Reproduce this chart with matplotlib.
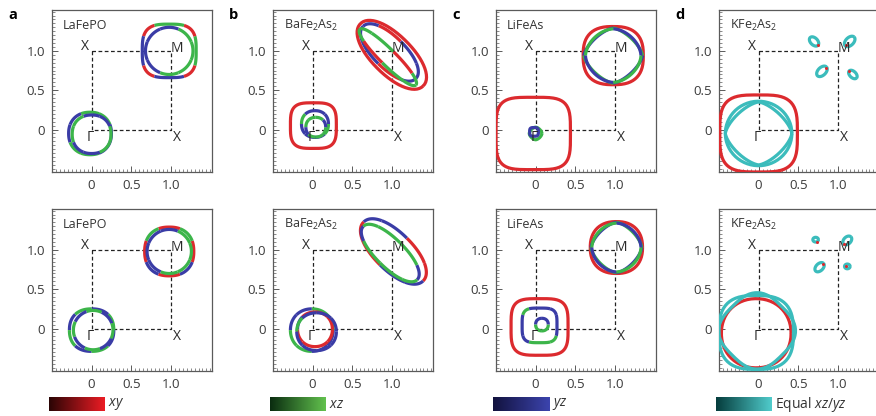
import numpy as np
import matplotlib
matplotlib.use("Agg")
import matplotlib.pyplot as plt
from matplotlib.ticker import FixedLocator, MultipleLocator
from matplotlib.colors import LinearSegmentedColormap

plt.rcParams['font.family'] = ['Open Sans', 'DejaVu Sans']
plt.rcParams['mathtext.fontset'] = 'custom'
plt.rcParams['mathtext.rm'] = 'Open Sans'
plt.rcParams['mathtext.it'] = 'Open Sans:italic'

# ---------------- data ----------------
PANEL_LETTERS = ['a', 'b', 'c', 'd']
MATERIALS = ['LaFePO', 'BaFe$_2$As$_2$', 'LiFeAs', 'KFe$_2$As$_2$']
TICKS = [0, 0.5, 1.0]
TICK_LABELS = ['0', '0.5', '1.0']
BZ_X = [0, 0, 1, 1, 0]
BZ_Y = [1, 0, 0, 1, 1]
POINT_NAMES = ['X', 'M', 'X', 'Γ']
POINT_X = [-0.09, 1.08, 1.08, -0.02]
POINT_Y = [1.05, 1.03, -0.1, -0.1]

# Fermi pockets: panel index (0-3 top row, 4-7 bottom row), centre, semi-axes,
# rotation (deg), superellipse exponent, orbital colour sequence, start angle
POCKET_PANEL = [0, 0, 0, 0,
                1, 1, 1, 1, 1, 1,
                2, 2, 2, 2, 2, 2,
                3, 3, 3, 3, 3, 3, 3,
                4, 4, 4, 4,
                5, 5, 5, 5, 5,
                6, 6, 6, 6, 6, 6,
                7, 7, 7, 7, 7, 7, 7]
POCKET_CX = [-0.02, 0.00, 0.98, 0.98,
             0.01, 0.03, 0.04, 1.00, 0.97, 0.95,
             -0.03, 0.00, -0.02, 0.98, 0.98, 0.98,
             0.00, 0.00, 0.00, 0.70, 1.15, 0.80, 1.19,
             0.00, 0.02, 0.98, 0.98,
             -0.01, 0.03, 0.05, 1.02, 0.98,
             0.05, 0.05, 0.08, 1.02, 1.02, 1.02,
             -0.03, -0.03, -0.02, 0.72, 1.12, 0.77, 1.12]
POCKET_CY = [-0.05, -0.06, 1.00, 1.00,
             0.05, 0.07, 0.03, 0.95, 0.98, 0.92,
             -0.05, -0.05, -0.03, 0.94, 0.94, 0.94,
             -0.05, -0.05, -0.05, 1.12, 1.12, 0.74, 0.70,
             -0.02, -0.02, 0.98, 0.98,
             -0.02, -0.01, -0.04, 0.98, 0.96,
             0.02, 0.04, 0.05, 1.03, 1.03, 1.03,
             -0.06, -0.05, -0.03, 1.13, 1.12, 0.78, 0.79]
POCKET_RX = [0.27, 0.245, 0.34, 0.30,
             0.29, 0.17, 0.125, 0.56, 0.47, 0.50,
             0.47, 0.08, 0.055, 0.38, 0.37, 0.35,
             0.49, 0.42, 0.42, 0.07, 0.08, 0.08, 0.065,
             0.28, 0.25, 0.31, 0.28,
             0.27, 0.22, 0.25, 0.53, 0.48,
             0.36, 0.22, 0.08, 0.33, 0.32, 0.31,
             0.44, 0.47, 0.44, 0.035, 0.065, 0.07, 0.035]
POCKET_RY = [0.27, 0.245, 0.34, 0.30,
             0.29, 0.17, 0.125, 0.25, 0.20, 0.10,
             0.46, 0.08, 0.055, 0.37, 0.35, 0.34,
             0.49, 0.41, 0.40, 0.045, 0.05, 0.05, 0.04,
             0.27, 0.25, 0.31, 0.28,
             0.27, 0.22, 0.24, 0.24, 0.18,
             0.36, 0.22, 0.08, 0.33, 0.32, 0.31,
             0.44, 0.47, 0.44, 0.03, 0.045, 0.045, 0.03]
POCKET_ROT = [0, 0, 0, 0,
              0, 0, 0, -45, -45, -45,
              0, 0, 0, 0, 0, 0,
              0, 0, 0, -45, 45, 45, -45,
              0, 0, 0, 0,
              0, 0, 0, -45, -45,
              0, 0, 0, 0, 0, 0,
              0, 0, 45, 0, 45, 45, 0]
POCKET_N = [2.2, 2.2, 3.2, 2.0,
            3.5, 2.2, 2.2, 2.1, 2.1, 2.1,
            4.0, 1.6, 3.5, 2.6, 1.45, 1.75,
            3.5, 2.0, 1.45, 2, 2, 2, 2,
            2.3, 2.0, 2.3, 2.0,
            2.1, 2.1, 2.1, 2.1, 2.1,
            3.8, 3.8, 2.2, 2.3, 1.5, 1.8,
            2.1, 2.8, 2.8, 2, 2, 2, 2]
POCKET_COLORS = ["GGBBGGBB", "BBGGBBGG", "GRGRBRBR", "GGBBBBGG",
                 "R", "BBBGBBBG", "GGGBGGGB", "R", "BBRBBBRB", "GRGGGRGG",
                 "R", "G", "B", "R", "GBGB", "BGBG",
                 "R", "C", "C", "C", "C", "C", "C",
                 "GBGBGBGB", "BGBGBGBG", "RGRGRBRB", "GGBBBBGG",
                 "GGBBGGBB", "RRRBRRRR", "BBBGBBBB", "RRBBRRBB", "BGGGBGGG",
                 "R", "BBBGBBGG", "BBGG", "R", "GBGB", "BGBG",
                 "R", "C", "C", "C", "C", "C", "C"]
POCKET_PHASE = [22.5, 22.5, -22.5, -22.5,
                0, 0, 45, 0, 0, 0,
                0, 0, 0, 0, 0, 0,
                0, 0, 0, 0, 0, 0, 0,
                0, 20, -22.5, -22.5,
                0, 0, 0, 0, 0,
                0, -22.5, 0, 0, 0, 0,
                0, 0, 0, 0, 0, 0, 0]
DOT_PANEL = [3, 3, 3, 3, 7, 7, 7, 7]
DOT_X = [0.75, 1.10, 0.85, 1.14, 0.74, 1.08, 0.81, 1.10]
DOT_Y = [1.07, 1.08, 0.78, 0.74, 1.10, 1.08, 0.82, 0.80]

LEGEND_LABELS = ['$\\it{xy}$', '$\\it{xz}$', '$\\it{yz}$', 'Equal $\\it{xz/yz}$']

# ---------------- style ----------------
ORB = {'R': '#dc2a2e', 'G': '#3cb54a', 'B': '#3a3ca6', 'C': '#3bbcbc'}
GRAD = [('#2a0505', '#ec1c24'), ('#0a2c10', '#62c24e'),
        ('#12123e', '#3c44ae'), ('#053c3c', '#50cccc')]

W, H = 876, 416
fig = plt.figure(figsize=(W / 100, H / 100), dpi=100)

COL_LEFT = [52, 273, 496, 719]
ROW_TOP = [10, 209]
AX_W, AX_H = 160, 162


def pocket_curve(cx, cy, rx, ry, rot, n, t):
    c, s = np.cos(t), np.sin(t)
    x = rx * np.sign(c) * np.abs(c) ** (2.0 / n)
    y = ry * np.sign(s) * np.abs(s) ** (2.0 / n)
    a = np.deg2rad(rot)
    return cx + x * np.cos(a) - y * np.sin(a), cy + x * np.sin(a) + y * np.cos(a)


axes = []
for r in range(2):
    for c in range(4):
        left = COL_LEFT[c] / W
        bottom = (H - ROW_TOP[r] - AX_H) / H
        ax = fig.add_axes([left, bottom, AX_W / W, AX_H / H])
        axes.append(ax)
        ax.set_xlim(-0.5, 1.52)
        ax.set_ylim(-0.54, 1.52)
        for sp in ax.spines.values():
            sp.set_color('#5a5a5a')
            sp.set_linewidth(0.9)
        ax.xaxis.set_major_locator(FixedLocator(TICKS))
        ax.yaxis.set_major_locator(FixedLocator(TICKS))
        ax.xaxis.set_minor_locator(MultipleLocator(0.05))
        ax.yaxis.set_minor_locator(MultipleLocator(0.05))
        ax.set_xticklabels(TICK_LABELS)
        ax.set_yticklabels(TICK_LABELS)
        ax.tick_params(which='both', direction='in', top=False, right=False,
                       colors='#5a5a5a', labelcolor='#3a3a3a', labelsize=9.5)
        ax.tick_params(which='major', length=4, width=0.7, pad=5)
        ax.tick_params(which='minor', length=2.2, width=0.5)
        ax.plot(BZ_X, BZ_Y, color='#222222', lw=0.9, ls=(0, (3, 2)), zorder=1)
        for name, px, py in zip(POINT_NAMES, POINT_X, POINT_Y):
            ax.text(px, py, name, ha='center', va='center', fontsize=10,
                    color='#2a2a2a', zorder=5)
        ax.text(-0.36, 1.32, MATERIALS[c], ha='left', va='center', fontsize=9,
                color='#333333', zorder=5)
        if r == 0:
            fig.text(COL_LEFT[c] / W - 44 / W, (H - 15) / H, PANEL_LETTERS[c],
                     fontsize=10.5, fontweight='bold', ha='left', va='center')

for p, cx, cy, rx, ry, rot, n, cols, ph in zip(POCKET_PANEL, POCKET_CX, POCKET_CY,
                                              POCKET_RX, POCKET_RY, POCKET_ROT,
                                              POCKET_N, POCKET_COLORS, POCKET_PHASE):
    ax = axes[p]
    k = len(cols)
    for i, ch in enumerate(cols):
        t0 = np.deg2rad(ph) + 2 * np.pi * i / k
        t1 = np.deg2rad(ph) + 2 * np.pi * (i + 1) / k
        t = np.linspace(t0, t1, 60)
        x, y = pocket_curve(cx, cy, rx, ry, rot, n, t)
        ax.plot(x, y, color=ORB[ch], lw=2.3, solid_capstyle='butt', zorder=3)

for p, dx, dy in zip(DOT_PANEL, DOT_X, DOT_Y):
    axes[p].plot([dx], [dy], 'o', color=ORB['R'], ms=2.2, mec='none', zorder=4)

# colour legends
grad = np.linspace(0, 1, 256)[None, :]
for i, (lab, (c0, c1)) in enumerate(zip(LEGEND_LABELS, GRAD)):
    x0 = COL_LEFT[i] - 3
    cax = fig.add_axes([x0 / W, (H - 411) / H, 56 / W, 14 / H])
    cax.imshow(grad, aspect='auto', cmap=LinearSegmentedColormap.from_list('g', [c0, c1]))
    cax.set_axis_off()
    fig.text((x0 + 59) / W, (H - 404) / H, lab, fontsize=10, color='#333333',
             ha='left', va='center')

fig.savefig('out.png', dpi=100)
